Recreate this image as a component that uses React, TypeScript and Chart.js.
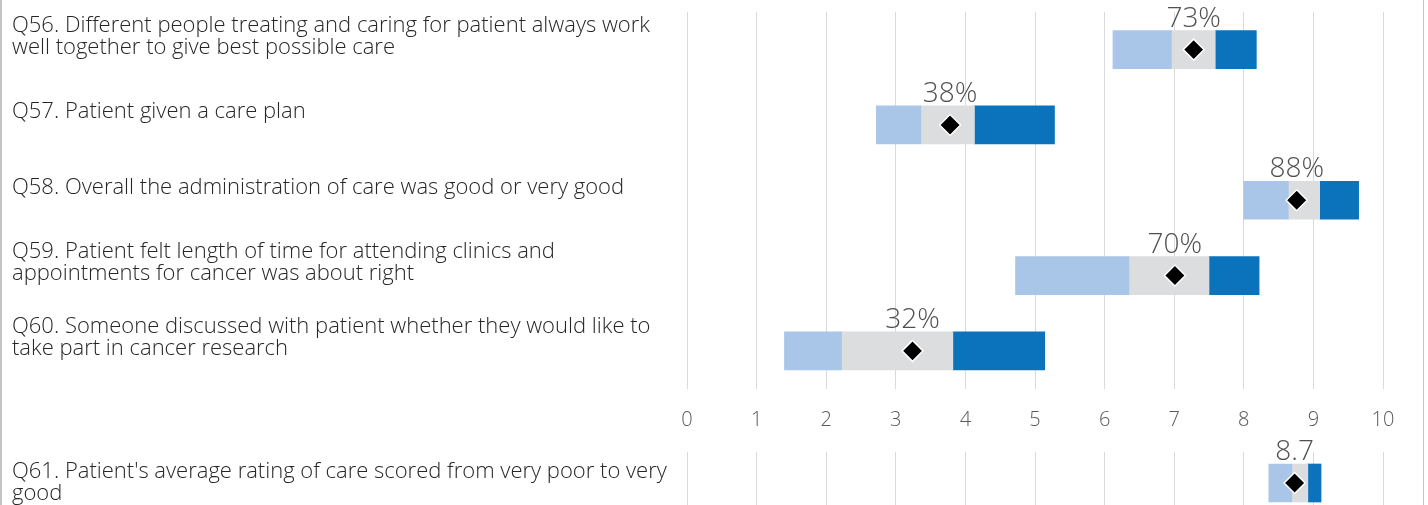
import React, { useEffect, useRef } from 'react';
import { Chart, registerables } from 'chart.js';

Chart.register(...registerables);

// ---- Data ----
const questions: string[][] = [
  ['Q56. Different people treating and caring for patient always work', 'well together to give best possible care'],
  ['Q57. Patient given a care plan'],
  ['Q58. Overall the administration of care was good or very good'],
  ['Q59. Patient felt length of time for attending clinics and', 'appointments for cancer was about right'],
  ['Q60. Someone discussed with patient whether they would like to', 'take part in cancer research'],
];
const rangeLow = [6.12, 2.72, 8.0, 4.72, 1.4];
const ciLow = [6.96, 3.36, 8.64, 6.35, 2.22];
const ciHigh = [7.59, 4.13, 9.09, 7.5, 3.82];
const rangeHigh = [8.18, 5.28, 9.65, 8.22, 5.14];
const scores = [7.28, 3.78, 8.76, 7.01, 3.24];
const scoreLabels = ['73%', '38%', '88%', '70%', '32%'];

const ratingQuestion: string[][] = [['Q61. Patient\'s average rating of care scored from very poor to very', 'good']];
const ratingRangeLow = [8.36];
const ratingCiLow = [8.69];
const ratingCiHigh = [8.92];
const ratingRangeHigh = [9.11];
const ratingScores = [8.73];
const ratingLabels = ['8.7'];

const xTickLabels = ['0', '1', '2', '3', '4', '5', '6', '7', '8', '9', '10'];

// ---- Styles ----
const LIGHT = '#a9c6e8';
const GREY = '#dcddde';
const DARK = '#0a73bb';
const GRID = '#d9d9d9';
const FONT = "'Open Sans', 'Noto Sans', sans-serif";
const W = 1428;
const PLOT_LEFT = 687;
const PLOT_RIGHT = 1383;

function valueLabelPlugin(labels: string[]) {
  return {
    id: 'valueLabels',
    afterDatasetsDraw(chart: any) {
      const meta = chart.getDatasetMeta(3);
      const ctx = chart.ctx;
      ctx.save();
      ctx.font = `300 28px ${FONT}`;
      ctx.fillStyle = '#505050';
      ctx.textAlign = 'center';
      ctx.textBaseline = 'middle';
      meta.data.forEach((el: any, i: number) => {
        ctx.fillText(labels[i], el.x, el.y - 31);
      });
      ctx.restore();
    },
  };
}

function makeConfig(
  labels: string[][],
  lo: number[], cl: number[], ch: number[], hi: number[],
  sc: number[], valLabels: string[],
  showTicks: boolean, labelOffset: number, padTop: number, padBottom: number, xAxisHeight: number
): any {
  const barBase = { type: 'bar', grouped: false, barThickness: 38, borderWidth: 0, order: 2 };
  return {
    type: 'bar',
    data: {
      labels,
      datasets: [
        { ...barBase, data: lo.map((v, i) => [v, cl[i]]), backgroundColor: LIGHT },
        { ...barBase, data: cl.map((v, i) => [v, ch[i]]), backgroundColor: GREY },
        { ...barBase, data: ch.map((v, i) => [v, hi[i]]), backgroundColor: DARK },
        {
          type: 'line',
          data: sc.map((v, i) => ({ x: v, y: i })),
          showLine: false,
          pointStyle: 'rectRot',
          pointRadius: 10.5,
          pointBackgroundColor: '#000000',
          pointBorderColor: '#ffffff',
          pointBorderWidth: 1.5,
          order: 0,
          clip: false,
        },
      ],
    },
    options: {
      indexAxis: 'y',
      responsive: false,
      animation: false,
      layout: { padding: { left: 12, right: W - PLOT_RIGHT, top: padTop, bottom: padBottom } },
      plugins: { legend: { display: false }, tooltip: { enabled: false } },
      scales: {
        x: {
          type: 'linear',
          min: 0,
          max: 10,
          grid: { color: GRID, lineWidth: 1, drawTicks: false },
          border: { display: false },
          ticks: {
            display: showTicks,
            stepSize: 1,
            padding: 20,
            color: '#595959',
            font: { family: FONT, size: 20, weight: '300' },
            callback: (_v: any, idx: number) => xTickLabels[idx],
          },
          afterFit: (s: any) => { s.height = xAxisHeight; s.paddingLeft = 0; s.paddingRight = 0; },
        },
        y: {
          type: 'category',
          grid: { display: false },
          border: { display: false },
          ticks: {
            crossAlign: 'far',
            labelOffset,
            color: '#262626',
            font: { family: FONT, size: 22, weight: '300', lineHeight: 1.0 },
          },
          afterFit: (s: any) => { s.width = PLOT_LEFT - 12; s.paddingTop = 0; s.paddingBottom = 0; },
        },
      },
    },
    plugins: [valueLabelPlugin(valLabels)],
  };
}

export default function App() {
  const topRef = useRef<HTMLCanvasElement>(null);
  const botRef = useRef<HTMLCanvasElement>(null);

  useEffect(() => {
    const c1 = new Chart(
      topRef.current as HTMLCanvasElement,
      makeConfig(questions, rangeLow, ciLow, ciHigh, rangeHigh, scores, scoreLabels, true, -13, 10, 0, 51.5)
    );
    const c2 = new Chart(
      botRef.current as HTMLCanvasElement,
      makeConfig(ratingQuestion, ratingRangeLow, ratingCiLow, ratingCiHigh, ratingRangeHigh, ratingScores, ratingLabels, false, -0.5, 10, 2, 0)
    );
    return () => {
      c1.destroy();
      c2.destroy();
    };
  }, []);

  return (
    <div style={{ position: 'fixed', left: 0, top: 0, width: W, height: 505, overflow: 'hidden', background: '#fff' }}>
      <canvas ref={topRef} width={W} height={440} style={{ position: 'absolute', left: 0, top: 0 }} />
      <canvas ref={botRef} width={W} height={86} style={{ position: 'absolute', left: 0, top: 440 }} />
      <div
        style={{
          position: 'absolute', left: 0, top: 0, width: 1424, height: 505,
          boxSizing: 'border-box', borderLeft: '2px solid #c4c4c4', borderRight: '1px solid #c4c4c4',
          pointerEvents: 'none',
        }}
      />
    </div>
  );
}
